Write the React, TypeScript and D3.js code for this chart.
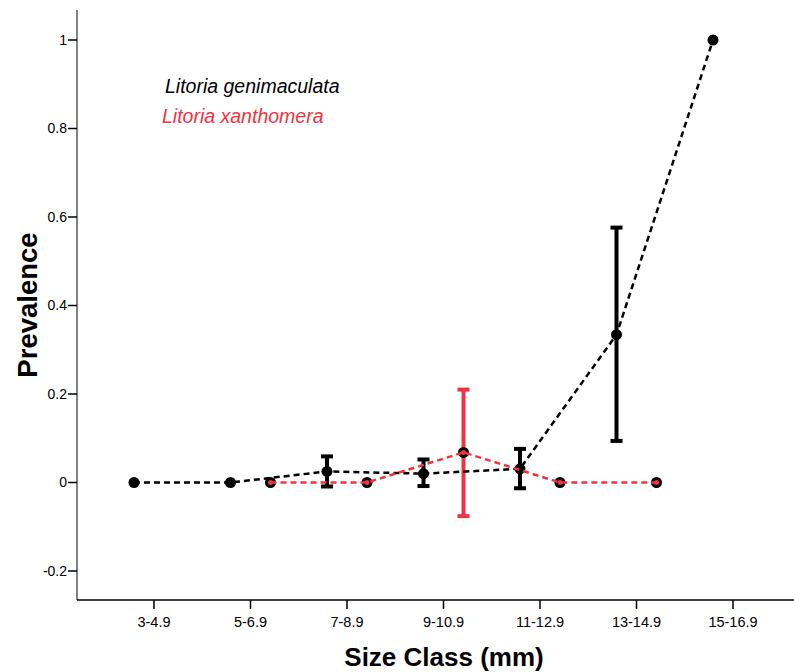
import React from "react";
import * as d3 from "d3";

const categories = ["3-4.9", "5-6.9", "7-8.9", "9-10.9", "11-12.9", "13-14.9", "15-16.9"];
const yTicks = [-0.2, 0, 0.2, 0.4, 0.6, 0.8, 1];

// Litoria genimaculata (black)
const genIdx = [0, 1, 2, 3, 4, 5, 6];
const genVal = [0, 0, 0.025, 0.02, 0.031, 0.334, 1.0];
const genLo = [null, null, -0.009, -0.008, -0.013, 0.094, null];
const genHi = [null, null, 0.059, 0.052, 0.076, 0.576, null];

// Litoria xanthomera (red)
const xanIdx = [1, 2, 3, 4, 5];
const xanVal = [0, 0, 0.068, 0, 0];
const xanLo = [null, null, -0.076, null, null];
const xanHi = [null, null, 0.21, null, null];

const RED = "#ef3340";
const W = 794, H = 672;

export default function App() {
  const x = d3.scaleLinear().domain([0, 6]).range([154, 733]);
  const y = d3.scaleLinear().domain([-0.2, 1]).range([571, 40]);
  const off = 20;
  const left = 77, bottom = 600, top = 10;

  const line = d3.line<[number, number]>().x(d => d[0]).y(d => d[1]);
  const genPts: [number, number][] = genIdx.map((c, i) => [x(c) - off, y(genVal[i])]);
  const xanPts: [number, number][] = xanIdx.map((c, i) => [x(c) + off, y(xanVal[i])]);

  const errBars = (idx: number[], lo: (number | null)[], hi: (number | null)[], dx: number, color: string) =>
    idx.map((c, i) => {
      if (lo[i] == null || hi[i] == null) return null;
      const cx = x(c) + dx;
      const y1 = y(hi[i] as number), y2 = y(lo[i] as number);
      return (
        <g key={"e" + color + i} stroke={color} strokeWidth={4}>
          <line x1={cx} x2={cx} y1={y1} y2={y2} />
          <line x1={cx - 6} x2={cx + 6} y1={y1} y2={y1} />
          <line x1={cx - 6} x2={cx + 6} y1={y2} y2={y2} />
        </g>
      );
    });

  return (
    <svg width={W} height={H} style={{ position: "absolute", left: 0, top: 0 }} fontFamily="Liberation Sans, Arial, sans-serif">
      <rect width={W} height={H} fill="#fff" />
      {/* axes */}
      <line x1={left} x2={left} y1={top} y2={bottom} stroke="#808080" strokeWidth={2} />
      <line x1={left} x2={W} y1={bottom} y2={bottom} stroke="#000" strokeWidth={1.5} />
      {yTicks.map(t => (
        <g key={"y" + t}>
          <line x1={left - 9} x2={left} y1={y(t)} y2={y(t)} stroke="#000" strokeWidth={1.5} />
          <text x={left - 10} y={y(t)} dy="0.35em" textAnchor="end" fontSize={14} textLength={undefined}>{String(t)}</text>
        </g>
      ))}
      {categories.map((c, i) => (
        <g key={"x" + c}>
          <line x1={x(i)} x2={x(i)} y1={bottom} y2={bottom + 9} stroke="#000" strokeWidth={1.5} />
          <text x={x(i)} y={bottom + 27} textAnchor="middle" fontSize={14.5}>{c}</text>
        </g>
      ))}
      <text transform={`translate(37,${305}) rotate(-90)`} textAnchor="middle" fontSize={27.5} fontWeight="bold">Prevalence</text>
      <text x={444} y={666} textAnchor="middle" fontSize={26} fontWeight="bold">Size Class (mm)</text>

      {/* legend */}
      <text x={165} y={93} fontSize={19.5} fontStyle="italic" fill="#000">Litoria genimaculata</text>
      <text x={162} y={123} fontSize={19.5} fontStyle="italic" fill={RED}>Litoria xanthomera</text>

      {/* error bars */}
      {errBars(genIdx, genLo, genHi, -off, "#000")}
      {errBars(xanIdx, xanLo, xanHi, off, RED)}

      {/* markers */}
      {genPts.map((p, i) => <circle key={"g" + i} cx={p[0]} cy={p[1]} r={5.5} fill="#000" />)}
      {xanPts.map((p, i) => <circle key={"r" + i} cx={p[0]} cy={p[1]} r={5.5} fill="#000" />)}

      {/* lines */}
      <path d={line(genPts) || ""} fill="none" stroke="#000" strokeWidth={2.5} strokeDasharray="6,4" />
      <path d={line(xanPts) || ""} fill="none" stroke={RED} strokeWidth={2.5} strokeDasharray="6,4" />
      {xanPts.map((p, i) => <circle key={"rc" + i} cx={p[0]} cy={p[1]} r={2.5} fill={RED} />)}
    </svg>
  );
}
